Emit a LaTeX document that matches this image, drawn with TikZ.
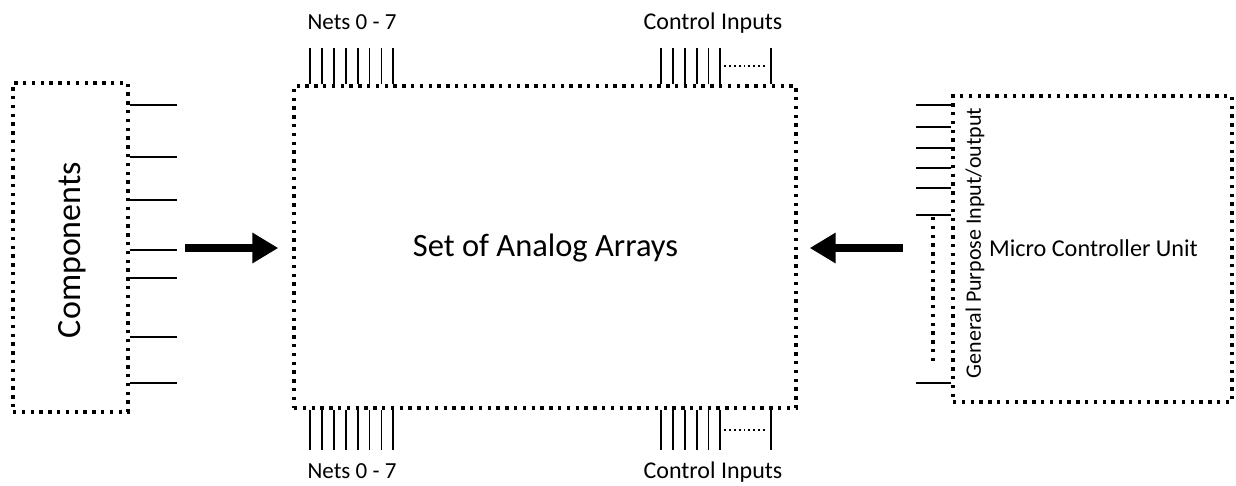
\documentclass[tikz,border=0pt]{standalone}
\usepackage{fontspec}
\setmainfont{Carlito}
\usetikzlibrary{arrows.meta,calc}

\begin{document}
\begin{tikzpicture}[x=1pt,y=-1pt,
  dotbox/.style={draw, line width=3.4pt, dash pattern=on 3.4pt off 5.4pt,
    inner sep=0pt, anchor=center},
  pin/.style={line width=1.8pt},
  fine dots/.style={line width=1.8pt, dash pattern=on 1.8pt off 3pt},
  thick dots/.style={line width=3.4pt, dash pattern=on 3.4pt off 5.4pt},
  big arrow/.style={line width=8.5pt, -{Triangle[length=26pt,width=29pt]}},
  lbl/.style={font=\fontsize{23}{27}\selectfont, inner sep=0pt}
]
\useasboundingbox (0,0) rectangle (1236,485);

% blocks
\node[dotbox, minimum width=115pt, minimum height=329pt] (comp) at (70.5,247.5) {};
\node[dotbox, minimum width=502pt, minimum height=322pt] (saa) at (545,247) {};
\node[dotbox, minimum width=279pt, minimum height=306pt] (mcu) at (1092.5,249) {};

% block titles
\node[font=\fontsize{34}{38}\selectfont, rotate=90, inner sep=0pt] (compt) at (72,250) {Components};
\node[font=\fontsize{32.5}{38}\selectfont, inner sep=0pt] (saat) at (545.5,248) {Set of Analog Arrays};
\node[font=\fontsize{24.2}{28}\selectfont, inner sep=0pt] (mcut) at (1093.5,248) {Micro Controller Unit};
\node[font=\fontsize{22}{26}\selectfont, rotate=90, inner sep=0pt] (gpio) at (975,243) {General Purpose Input/output};

% component pins
\foreach \y in {105,157,200,250,278,337,383}
  \draw[pin] (comp.east |- 0,\y) -- ++(47,0);

% nets 0-7, top and bottom
\foreach \i in {0,...,7} {
  \draw[pin] ($(saa.north west)+(18+11.85*\i,0)$) -- ++(0,-36);
  \draw[pin] ($(saa.south west)+(18+11.85*\i,0)$) -- ++(0,40);
}
% control inputs, top and bottom
\foreach \i in {0,...,5} {
  \draw[pin] ($(saa.north west)+(369+11.8*\i,0)$) -- ++(0,-36);
  \draw[pin] ($(saa.south west)+(369+11.8*\i,0)$) -- ++(0,40);
}
\draw[pin] ($(saa.north west)+(479,0)$) -- ++(0,-36);
\draw[pin] ($(saa.south west)+(479,0)$) -- ++(0,40);
\draw[fine dots] ($(saa.north west)+(432,-18)$) -- ++(42,0);
\draw[fine dots] ($(saa.south west)+(432,20)$) -- ++(42,0);

\node[lbl] (nt) at (352,22) {Nets 0 - 7};
\node[lbl, font=\fontsize{24}{28}\selectfont] (ct) at (713,23) {Control Inputs};
\node[lbl] (nb) at (352,471) {Nets 0 - 7};
\node[lbl, font=\fontsize{24}{28}\selectfont] (cb) at (713,472) {Control Inputs};

% MCU general purpose pins
\foreach \y in {105,127,148,168,188,215,383}
  \draw[pin] (mcu.west |- 0,\y) -- ++(-35,0);
\coordinate (gtop) at (933,217);
\coordinate (gbot) at (933,363);
\draw[thick dots] (gtop) -- (gbot);

% data flow arrows
\coordinate (lin) at (185,248);
\coordinate (rin) at (903,248);
\draw[big arrow, shorten >=14pt] (lin) -- (saa.west |- lin);
\draw[big arrow, shorten >=12pt] (rin) -- (saa.east |- rin);
\end{tikzpicture}
\end{document}
